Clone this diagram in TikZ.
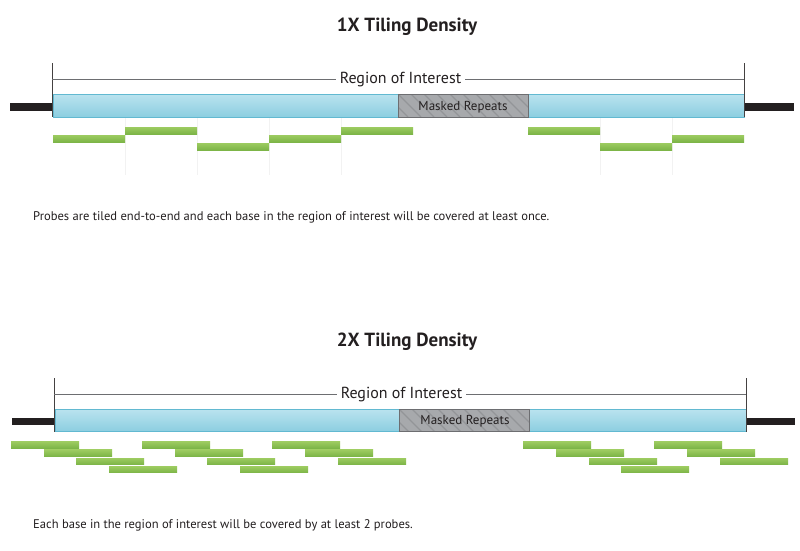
\documentclass[tikz,border=0pt]{standalone}
\usepackage{fontspec}
\setmainfont{PT Sans}

\definecolor{ink}{HTML}{231F20}
\definecolor{roitop}{HTML}{BAE3EF}
\definecolor{roibot}{HTML}{8CCEE0}
\definecolor{roiedge}{HTML}{62B9D1}
\definecolor{maskgray}{HTML}{A7A9AC}
\definecolor{maskedge}{HTML}{6D6E71}
\definecolor{hatchgray}{HTML}{939598}
\definecolor{probetop}{HTML}{9CCB60}
\definecolor{probebot}{HTML}{7DB548}
\definecolor{guidegray}{HTML}{6D6E71}

\begin{document}
\begin{tikzpicture}[x=1pt, y=-1pt,
  chrom/.style={fill=ink},
  roibar/.style={top color=roitop, bottom color=roibot, draw=roiedge, line width=1pt},
  maskbox/.style={draw=maskedge, line width=1pt},
  hatch/.style={draw=hatchgray, line width=1.3pt},
  probe/.style={top color=probetop, bottom color=probebot},
  guide/.style={draw=guidegray, line width=1pt},
  tickline/.style={draw=ink!85, line width=0.8pt},
  faint/.style={draw=black!5, line width=0.8pt},
  title/.style={font=\bfseries\fontsize{19}{22}\selectfont, text=ink, anchor=base},
  roilabel/.style={font=\fontsize{16}{19}\selectfont, text=ink, anchor=base, inner xsep=4pt, inner ysep=0pt},
  masklabel/.style={font=\fontsize{13}{15}\selectfont, text=ink, anchor=base},
  note/.style={font=\fontsize{12.55}{15}\selectfont, text=ink, anchor=base west, inner sep=0pt},
]

\useasboundingbox[fill=white] (0,0) rectangle (800,550);

%========================
% 1X タイリング
%========================
\node[title] (title1) at (407,31.7) {1X Tiling Density};

% 染色体
\fill[chrom] (10,103) rectangle (53,111);
\fill[chrom] (744,103) rectangle (794,111);

% 対象領域
\draw[roibar] (53,94) rectangle (744,117);
\fill[maskgray] (398,94) rectangle (528,117);
\begin{scope}
  \clip (398,94) rectangle (528,117);
  \foreach \x in {385,398,...,530}
    \draw[hatch] (\x,94) -- ++(23,23);
\end{scope}
\draw[maskbox] (398,94) rectangle (528,117);
\node[masklabel] (mask1) at (463,110) {Masked Repeats};

% 目盛り
\coordinate (L1) at (52,63);
\coordinate (R1) at (744,63);
\draw[tickline] (L1) -- (52,117);
\draw[tickline] (R1) -- (744,117);
\node[roilabel] (roi1) at (400.5,83.3) {Region of Interest};
\draw[guide] (L1 |- roi1.center) -- (roi1.west |- roi1.center);
\draw[guide] (roi1.east |- roi1.center) -- (R1 |- roi1.center);

% 補助線
\foreach \x in {125,197,269,341,600,672}
  \draw[faint] (\x,118) -- (\x,175);

% プローブ
\foreach \x/\y in {53/135,125/127,197/143,269/135,341/127,528/127,600/143,672/135}
  \path[probe] (\x,\y) rectangle ++(72,7);

\node[note] (note1) at (33,220.7) {Probes are tiled end-to-end and each base in the region of interest will be covered at least once.};

%========================
% 2X タイリング
%========================
\node[title] (title2) at (407,346.7) {2X Tiling Density};

% 染色体
\fill[chrom] (12,418) rectangle (55,425);
\fill[chrom] (746,418) rectangle (795,425);

% 対象領域
\draw[roibar] (55,409) rectangle (746,431.5);
\fill[maskgray] (399,409) rectangle (529,431.5);
\begin{scope}
  \clip (399,409) rectangle (529,431.5);
  \foreach \x in {386,399,...,531}
    \draw[hatch] (\x,409) -- ++(23,23);
\end{scope}
\draw[maskbox] (399,409) rectangle (529,431.5);
\node[masklabel] (mask2) at (465,424) {Masked Repeats};

% 目盛り
\coordinate (L2) at (54,378);
\coordinate (R2) at (746,378);
\draw[tickline] (L2) -- (54,431.5);
\draw[tickline] (R2) -- (746,431.5);
\node[roilabel] (roi2) at (401.5,398.3) {Region of Interest};
\draw[guide] (L2 |- roi2.center) -- (roi2.west |- roi2.center);
\draw[guide] (roi2.east |- roi2.center) -- (R2 |- roi2.center);

% プローブ (4段)
\foreach \x/\r in {11/0,44/1,76/2,109/3,142/0,175/1,207/2,240/3,272/0,305/1,338/2,
                   523/0,556/1,589/2,621/3,654/0,687/1,720/2}
  \path[probe] (\x,441.7+8.2*\r) rectangle ++(68,6.3);

\node[note] (note2) at (33,528.3) {Each base in the region of interest will be covered by at least 2 probes.};

\end{tikzpicture}
\end{document}
